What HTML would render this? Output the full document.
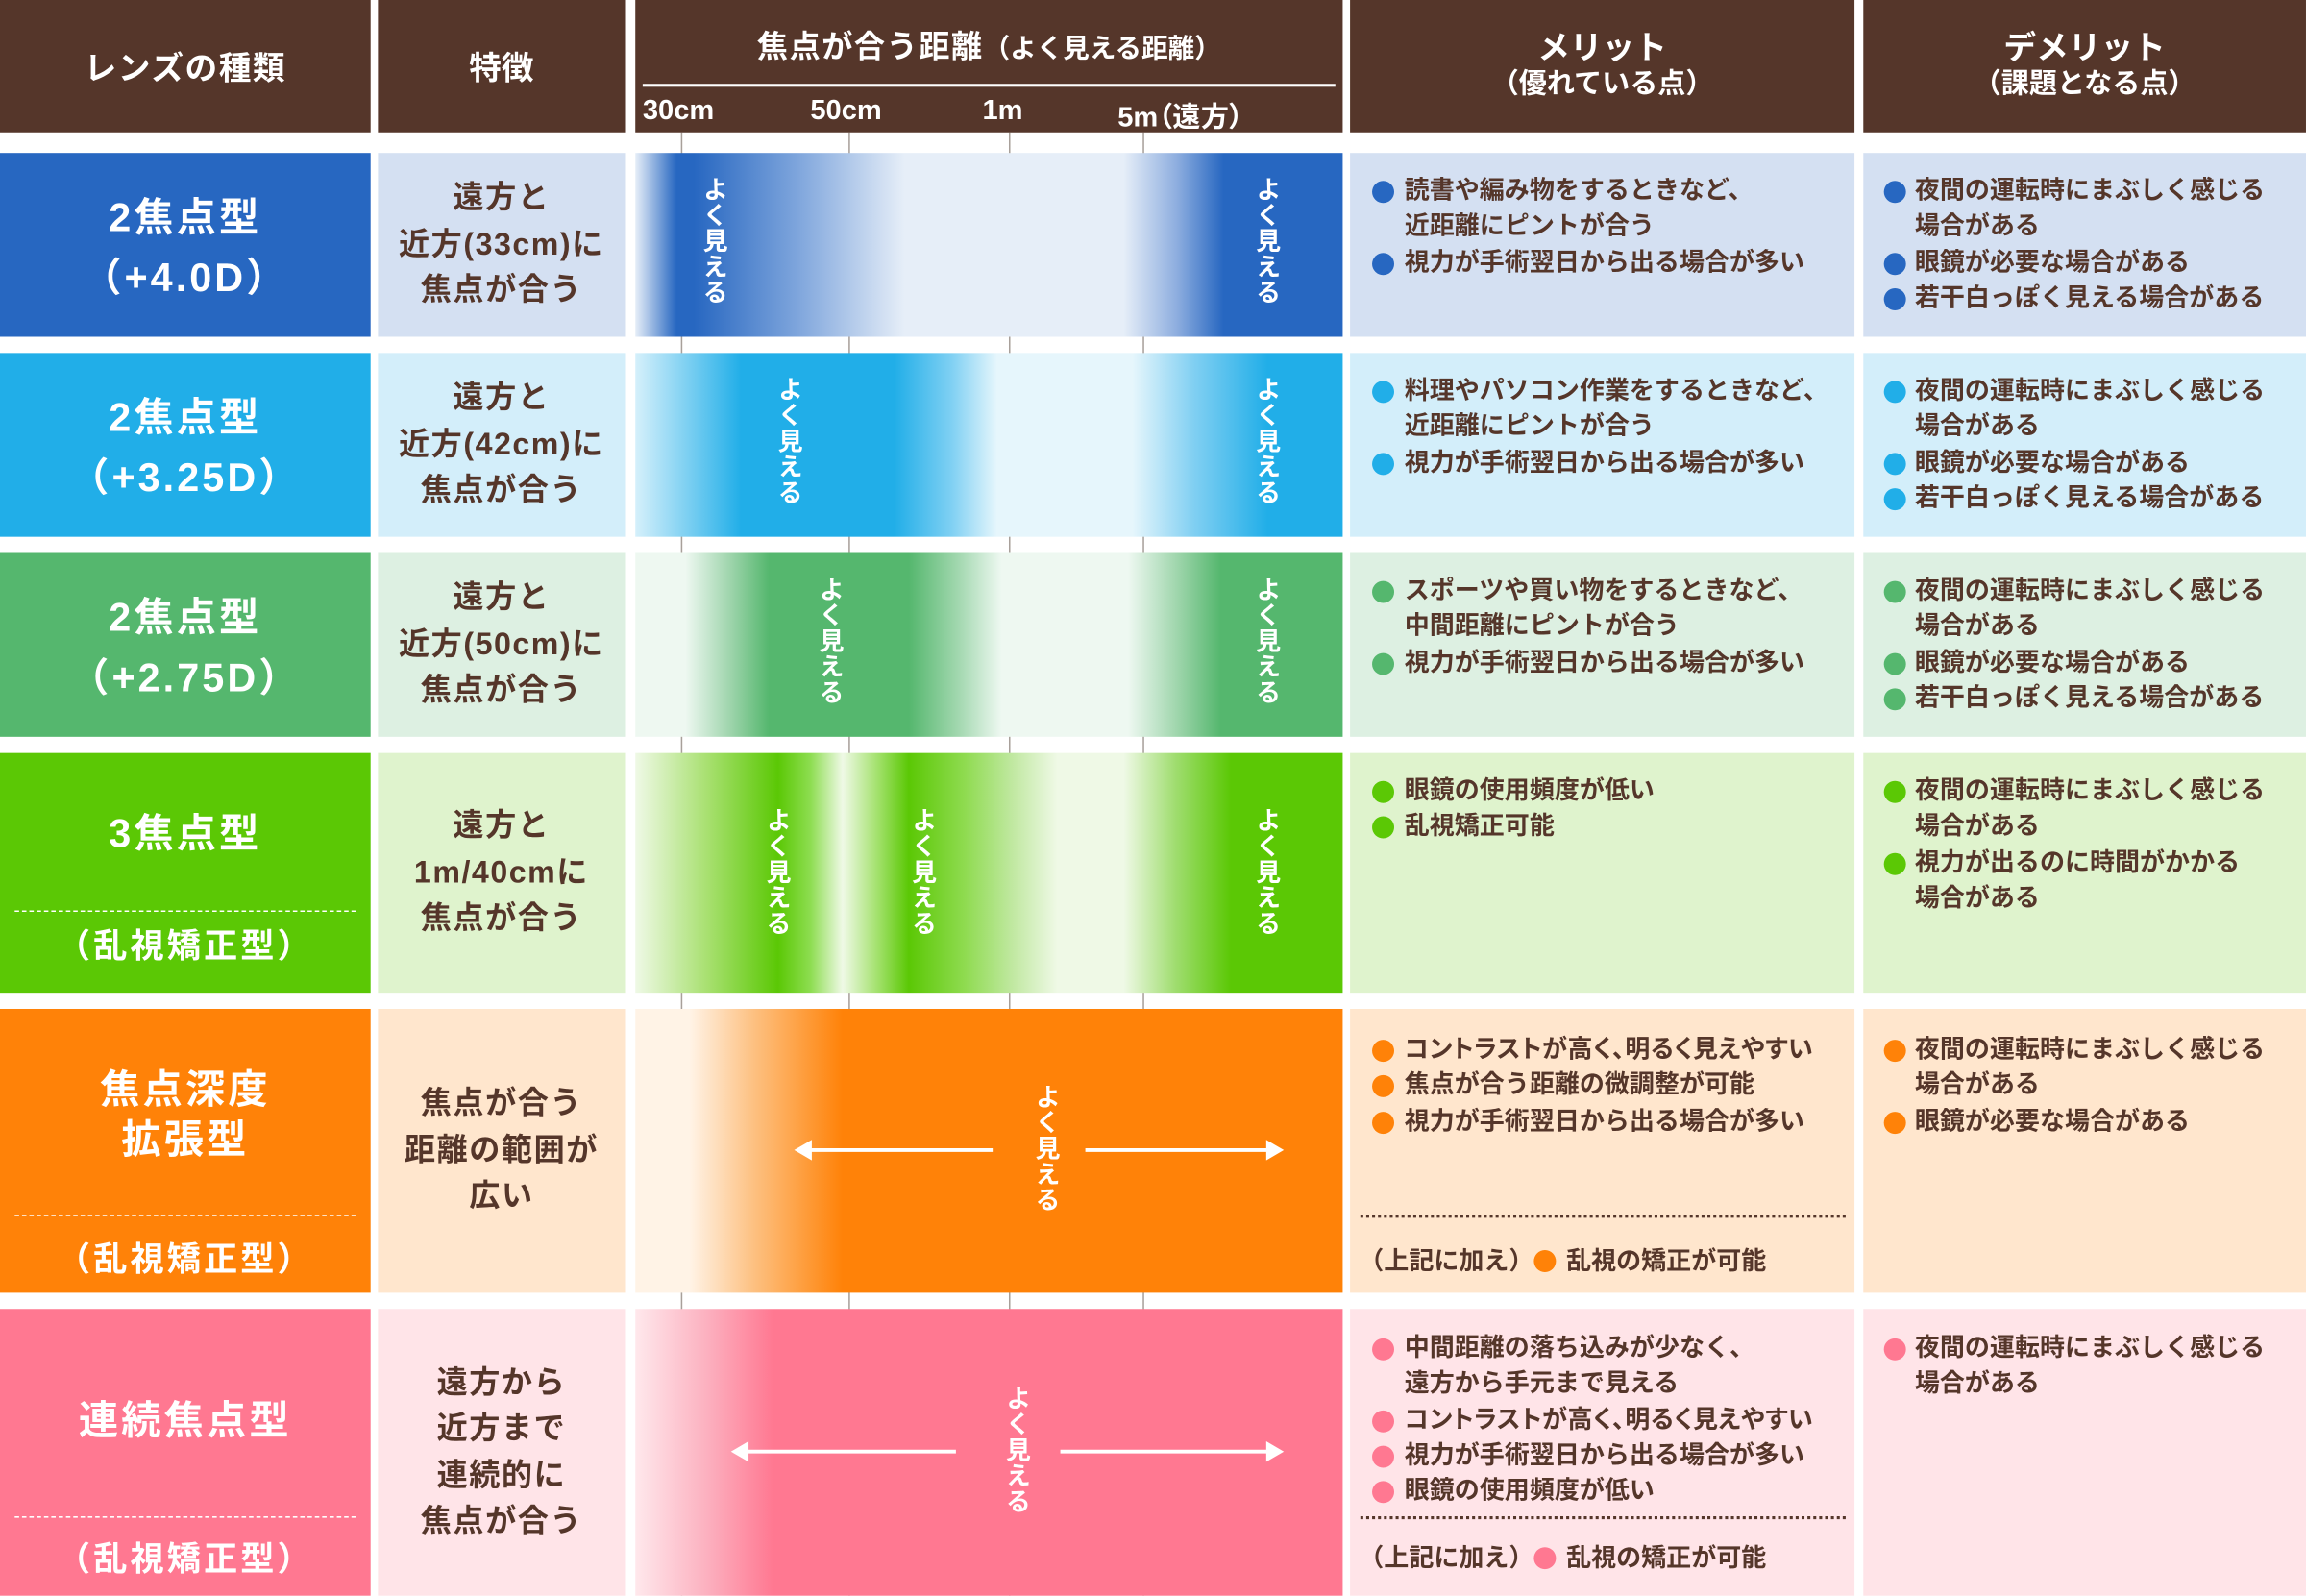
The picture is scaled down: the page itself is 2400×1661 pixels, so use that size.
<!DOCTYPE html>
<html><head><meta charset="utf-8">
<style>
*{margin:0;padding:0;box-sizing:border-box}
html,body{width:2400px;height:1660px;overflow:hidden;background:#fff}
#w{position:absolute;left:0;top:0;width:1568px;height:1085px;transform:scale(1.5306);transform-origin:0 0;font-family:"Liberation Sans","Noto Sans CJK JP",sans-serif;font-weight:bold}
.a{position:absolute}
.hd{background:#55362a;color:#fff;top:0;height:90px}
.c{display:flex;flex-direction:column;align-items:center;justify-content:center;text-align:center}
.t1{color:#fff;font-size:27px;letter-spacing:2px;line-height:41px;font-weight:bold}
.t2{color:#55362a;font-size:21px;line-height:31.5px;letter-spacing:1px}
.lst{color:#55362a;font-size:17px;line-height:24.3px;padding-top:14px;font-weight:bold}
.lst div{position:relative;white-space:nowrap}
.d4 div{padding-left:37px}
.d5 div{padding-left:35px}
.b{position:absolute;width:15px;height:15px;border-radius:50%;top:5px}
.d4 .b{left:15px}
.d5 .b{left:14px}
.v{position:absolute;writing-mode:vertical-rl;color:#fff;font-size:17px;font-weight:bold;line-height:18px;letter-spacing:0.5px}
.tick{position:absolute;top:90px;height:995px;width:1px;background:#a8a09a}
.dash{position:absolute;left:10px;width:232px;border-top:1px dashed #fff}
.dot{position:absolute;left:925px;width:330px;border-top:2px dotted #55362a}
.p{font-feature-settings:"palt";letter-spacing:0.3px}
.sub{color:#fff;font-size:23px;letter-spacing:2px;font-weight:bold}
</style></head><body><div id="w">
<div class="tick" style="left:463px"></div><div class="tick" style="left:577px"></div><div class="tick" style="left:686px"></div><div class="tick" style="left:777px"></div>

<div class="a hd c" style="left:0;width:252px;font-size:22px;letter-spacing:1px">レンズの種類</div>
<div class="a hd c" style="left:257px;width:168px;font-size:22px">特徴</div>
<div class="a hd" style="left:432px;width:481px">
 <div class="a" style="left:0;width:481px;top:16px;text-align:center;font-size:21px;letter-spacing:1px">焦点が合う距離<span style="font-size:18px;letter-spacing:0">（よく見える距離）</span></div>
 <div class="a" style="left:5px;width:471px;top:57px;height:2px;background:#fff"></div>
 <div class="a" style="left:5px;top:65px;font-size:19px">30cm</div>
 <div class="a" style="left:119px;top:65px;font-size:19px">50cm</div>
 <div class="a" style="left:236px;top:65px;font-size:19px">1m</div>
 <div class="a" style="left:328px;top:65px;font-size:19px">5m<span class="p">（遠方）</span></div>
</div>
<div class="a hd c" style="left:918px;width:343px;font-size:22px;line-height:25px"><div>メリット</div><div style="font-size:19px">（優れている点）</div></div>
<div class="a hd c" style="left:1267px;width:301px;font-size:22px;line-height:25px"><div>デメリット</div><div style="font-size:19px">（課題となる点）</div></div>

<!-- row1 -->
<div class="a c t1" style="left:0;top:104px;width:252px;height:125px;background:#2767c1;padding-top:4px"><div>2焦点型</div><div>（+4.0D）</div></div>
<div class="a c t2" style="left:257px;top:104px;width:168px;height:125px;background:#d4e0f2"><div>遠方と</div><div>近方(33cm)に</div><div>焦点が合う</div></div>
<div class="a" style="left:432px;top:104px;width:481px;height:125px;background:linear-gradient(90deg,#e6eef8 0,#2767c1 28px,#2767c1 40px,#7ea5dc 110px,#e6eef8 183px,#e6eef8 332px,#8eaedf 368px,#2767c1 400px,#2767c1 481px)">
 <div class="v" style="left:43px;top:16px">よく見える</div><div class="v" style="left:419px;top:16px">よく見える</div></div>
<div class="a lst d4" style="left:918px;top:104px;width:343px;height:125px;background:#d4e0f2">
 <div><i class="b" style="background:#2767c1"></i>読書や編み物をするときなど、</div><div>近距離にピントが合う</div><div><i class="b" style="background:#2767c1"></i>視力が手術翌日から出る場合が多い</div></div>
<div class="a lst d5" style="left:1267px;top:104px;width:301px;height:125px;background:#d4e0f2">
 <div><i class="b" style="background:#2767c1"></i>夜間の運転時にまぶしく感じる</div><div>場合がある</div><div><i class="b" style="background:#2767c1"></i>眼鏡が必要な場合がある</div><div><i class="b" style="background:#2767c1"></i>若干白っぽく見える場合がある</div></div>

<!-- row2 -->
<div class="a c t1" style="left:0;top:240px;width:252px;height:125px;background:#21aee8;padding-top:4px"><div>2焦点型</div><div>（+3.25D）</div></div>
<div class="a c t2" style="left:257px;top:240px;width:168px;height:125px;background:#d3eefa"><div>遠方と</div><div>近方(42cm)に</div><div>焦点が合う</div></div>
<div class="a" style="left:432px;top:240px;width:481px;height:125px;background:linear-gradient(90deg,#d5f0fb 0,#21aee8 72px,#21aee8 176px,#7fd0f3 215px,#e6f6fc 246px,#e6f6fc 338px,#80cff2 380px,#21aee8 430px,#21aee8 481px)">
 <div class="v" style="left:94px;top:16px">よく見える</div><div class="v" style="left:419px;top:16px">よく見える</div></div>
<div class="a lst d4" style="left:918px;top:240px;width:343px;height:125px;background:#d3eefa">
 <div><i class="b" style="background:#21aee8"></i>料理やパソコン作業をするときなど、</div><div>近距離にピントが合う</div><div><i class="b" style="background:#21aee8"></i>視力が手術翌日から出る場合が多い</div></div>
<div class="a lst d5" style="left:1267px;top:240px;width:301px;height:125px;background:#d3eefa">
 <div><i class="b" style="background:#21aee8"></i>夜間の運転時にまぶしく感じる</div><div>場合がある</div><div><i class="b" style="background:#21aee8"></i>眼鏡が必要な場合がある</div><div><i class="b" style="background:#21aee8"></i>若干白っぽく見える場合がある</div></div>

<!-- row3 -->
<div class="a c t1" style="left:0;top:376px;width:252px;height:125px;background:#55b76e;padding-top:4px"><div>2焦点型</div><div>（+2.75D）</div></div>
<div class="a c t2" style="left:257px;top:376px;width:168px;height:125px;background:#ddf0e2"><div>遠方と</div><div>近方(50cm)に</div><div>焦点が合う</div></div>
<div class="a" style="left:432px;top:376px;width:481px;height:125px;background:linear-gradient(90deg,#eef8f1 0,#eef8f1 34px,#9dd4ab 65px,#55b76e 91px,#55b76e 186px,#a3d8b0 220px,#eef8f1 249px,#eef8f1 335px,#a0d6ad 368px,#55b76e 398px,#55b76e 481px)">
 <div class="v" style="left:122px;top:16px">よく見える</div><div class="v" style="left:419px;top:16px">よく見える</div></div>
<div class="a lst d4" style="left:918px;top:376px;width:343px;height:125px;background:#ddf0e2">
 <div><i class="b" style="background:#55b76e"></i>スポーツや買い物をするときなど、</div><div>中間距離にピントが合う</div><div><i class="b" style="background:#55b76e"></i>視力が手術翌日から出る場合が多い</div></div>
<div class="a lst d5" style="left:1267px;top:376px;width:301px;height:125px;background:#ddf0e2">
 <div><i class="b" style="background:#55b76e"></i>夜間の運転時にまぶしく感じる</div><div>場合がある</div><div><i class="b" style="background:#55b76e"></i>眼鏡が必要な場合がある</div><div><i class="b" style="background:#55b76e"></i>若干白っぽく見える場合がある</div></div>

<!-- row4 -->
<div class="a" style="left:0;top:512px;width:252px;height:163px;background:#5bc805">
 <div class="a t1" style="left:0;width:252px;top:35px;text-align:center">3焦点型</div>
 <div class="dash" style="top:107px"></div>
 <div class="a sub" style="left:0;width:252px;top:112px;text-align:center">（乱視矯正型）</div></div>
<div class="a c t2" style="left:257px;top:512px;width:168px;height:163px;background:#dff3cd"><div>遠方と</div><div>1m/40cmに</div><div>焦点が合う</div></div>
<div class="a" style="left:432px;top:512px;width:481px;height:163px;background:linear-gradient(90deg,#eff9e6 0,#a8e070 49px,#5bc805 97px,#8ddd50 119px,#eff9e6 141px,#a5e270 164px,#5bc805 186px,#8fdb50 224px,#c0e8a0 256px,#eff9e6 287px,#eff9e6 332px,#a0dd70 367px,#5bc805 405px,#5bc805 481px)">
 <div class="v" style="left:86px;top:37px">よく見える</div><div class="v" style="left:185px;top:37px">よく見える</div><div class="v" style="left:419px;top:37px">よく見える</div></div>
<div class="a lst d4" style="left:918px;top:512px;width:343px;height:163px;background:#dff3cd">
 <div><i class="b" style="background:#5bc805"></i>眼鏡の使用頻度が低い</div><div><i class="b" style="background:#5bc805"></i>乱視矯正可能</div></div>
<div class="a lst d5" style="left:1267px;top:512px;width:301px;height:163px;background:#dff3cd">
 <div><i class="b" style="background:#5bc805"></i>夜間の運転時にまぶしく感じる</div><div>場合がある</div><div><i class="b" style="background:#5bc805"></i>視力が出るのに時間がかかる</div><div>場合がある</div></div>

<!-- row5 -->
<div class="a" style="left:0;top:686px;width:252px;height:193px;background:#ff8208">
 <div class="a t1" style="left:0;width:252px;top:38px;text-align:center;line-height:34px">焦点深度<br>拡張型</div>
 <div class="dash" style="top:140px"></div>
 <div class="a sub" style="left:0;width:252px;top:151px;text-align:center">（乱視矯正型）</div></div>
<div class="a c t2" style="left:257px;top:686px;width:168px;height:193px;background:#ffe6cd"><div>焦点が合う</div><div>距離の範囲が</div><div>広い</div></div>
<div class="a" style="left:432px;top:686px;width:481px;height:193px;background:linear-gradient(90deg,#fff3e6 0,#fff3e6 37px,#fdc080 81px,#ff8208 141px,#ff8208 481px)">
 <div class="v" style="left:269px;top:51px">よく見える</div>
 <svg class="a" style="left:0;top:0" width="481" height="193"><g fill="#fff" stroke="#fff"><line x1="118" y1="96" x2="243" y2="96" stroke-width="2.5"/><polygon points="108,96 120,89 120,103" stroke="none"/><line x1="306" y1="96" x2="431" y2="96" stroke-width="2.5"/><polygon points="441,96 429,89 429,103" stroke="none"/></g></svg></div>
<div class="a lst d4" style="left:918px;top:686px;width:343px;height:193px;background:#ffe6cd;padding-top:16px">
 <div><i class="b" style="background:#ff8208"></i><span class="p">コントラストが高く、明るく見えやすい</span></div><div><i class="b" style="background:#ff8208"></i>焦点が合う距離の微調整が可能</div><div><i class="b" style="background:#ff8208"></i>視力が手術翌日から出る場合が多い</div></div>
<div class="dot" style="top:826px"></div>
<div class="a" style="left:924px;top:843px;font-size:17px;color:#55362a;white-space:nowrap">（上記に加え）<i style="display:inline-block;width:15px;height:15px;border-radius:50%;background:#ff8208;vertical-align:-2px;margin:0 7px 0 0"></i>乱視の矯正が可能</div>
<div class="a lst d5" style="left:1267px;top:686px;width:301px;height:193px;background:#ffe6cd;padding-top:16px">
 <div><i class="b" style="background:#ff8208"></i>夜間の運転時にまぶしく感じる</div><div>場合がある</div><div><i class="b" style="background:#ff8208"></i>眼鏡が必要な場合がある</div></div>

<!-- row6 -->
<div class="a" style="left:0;top:890px;width:252px;height:195px;background:#ff7891">
 <div class="a t1" style="left:0;width:252px;top:56px;text-align:center">連続焦点型</div>
 <div class="dash" style="top:141px"></div>
 <div class="a sub" style="left:0;width:252px;top:151px;text-align:center">（乱視矯正型）</div></div>
<div class="a c t2" style="left:257px;top:890px;width:168px;height:195px;background:#ffe4e8"><div>遠方から</div><div>近方まで</div><div>連続的に</div><div>焦点が合う</div></div>
<div class="a" style="left:432px;top:890px;width:481px;height:195px;background:linear-gradient(90deg,#ffe8ec 0,#fcb0bf 49px,#ff7891 94px,#ff7891 481px)">
 <div class="v" style="left:249px;top:52px">よく見える</div>
 <svg class="a" style="left:0;top:0" width="481" height="195"><g fill="#fff" stroke="#fff"><line x1="75" y1="97" x2="218" y2="97" stroke-width="2.5"/><polygon points="65,97 77,90 77,104" stroke="none"/><line x1="289" y1="97" x2="431" y2="97" stroke-width="2.5"/><polygon points="441,97 429,90 429,104" stroke="none"/></g></svg></div>
<div class="a lst d4" style="left:918px;top:890px;width:343px;height:195px;background:#ffe4e8;padding-top:15px">
 <div><i class="b" style="background:#ff7891"></i>中間距離の落ち込みが少なく、</div><div>遠方から手元まで見える</div><div><i class="b" style="background:#ff7891"></i><span class="p">コントラストが高く、明るく見えやすい</span></div><div><i class="b" style="background:#ff7891"></i>視力が手術翌日から出る場合が多い</div><div><i class="b" style="background:#ff7891"></i>眼鏡の使用頻度が低い</div></div>
<div class="dot" style="top:1031px"></div>
<div class="a" style="left:924px;top:1045px;font-size:17px;color:#55362a;white-space:nowrap">（上記に加え）<i style="display:inline-block;width:15px;height:15px;border-radius:50%;background:#ff7891;vertical-align:-2px;margin:0 7px 0 0"></i>乱視の矯正が可能</div>
<div class="a lst d5" style="left:1267px;top:890px;width:301px;height:195px;background:#ffe4e8;padding-top:15px">
 <div><i class="b" style="background:#ff7891"></i>夜間の運転時にまぶしく感じる</div><div>場合がある</div></div>
</div></body></html>
